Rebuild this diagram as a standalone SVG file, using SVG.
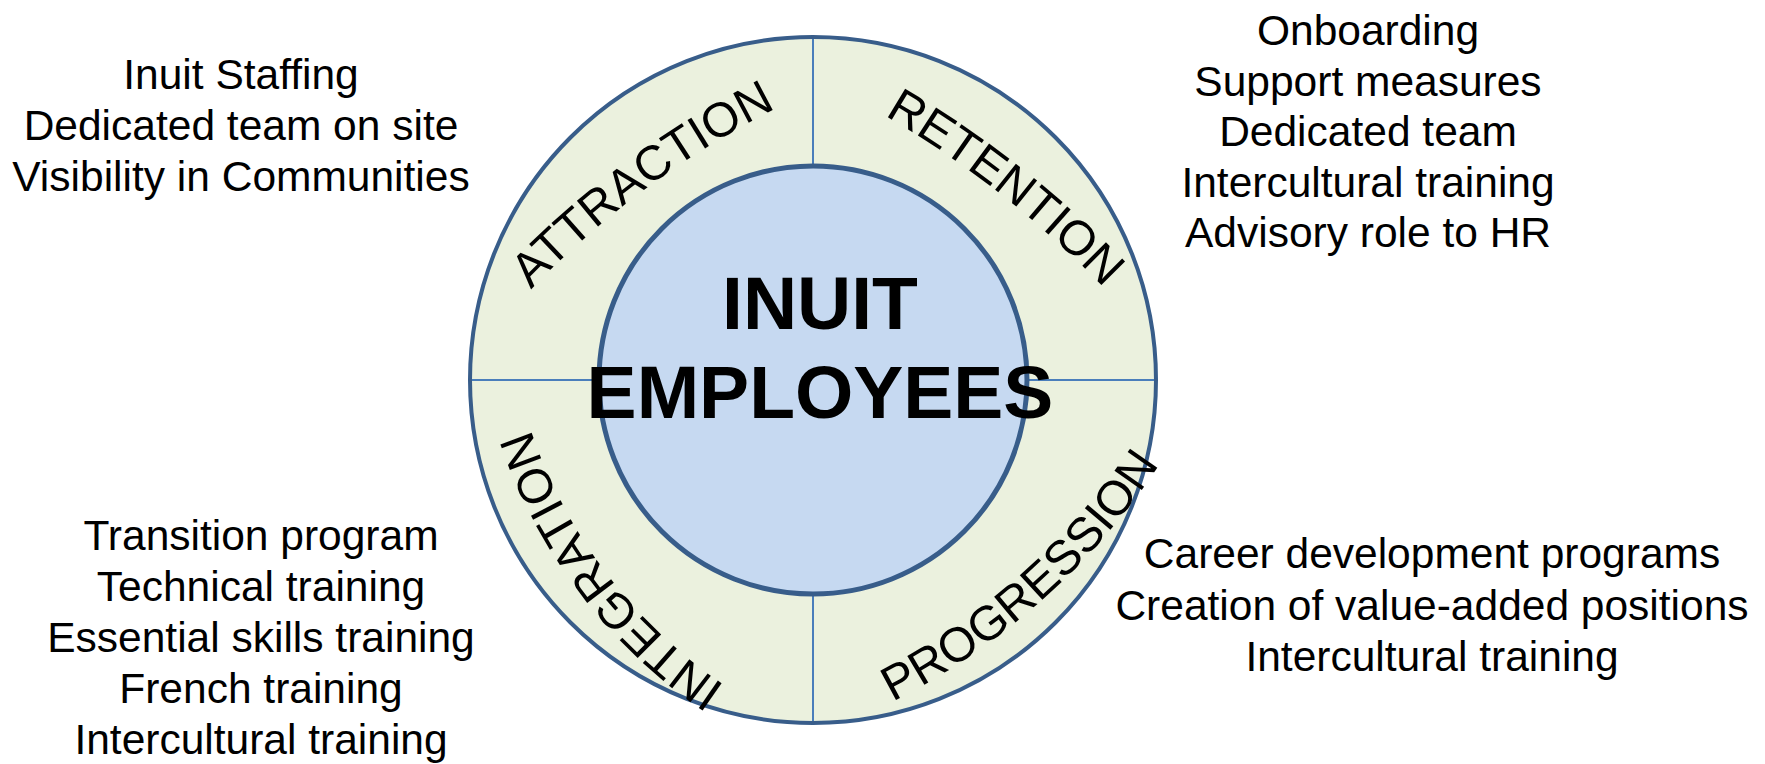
<svg xmlns="http://www.w3.org/2000/svg" width="1765" height="764" viewBox="0 0 1765 764">
<style>
.t{font-family:"Liberation Sans",Arial,sans-serif;font-size:42.5px;fill:#000;text-anchor:middle}
.lab{font-family:"Liberation Sans",Arial,sans-serif;font-size:48.5px;fill:#000}
.ctr{font-family:"Liberation Sans",Arial,sans-serif;font-size:75px;font-weight:bold;fill:#000;text-anchor:middle}
.div{stroke:#4A7EBB;stroke-width:2;fill:none}
</style>
<defs>
<path id="pA" d="M 526,295 A 900 900 0 0 1 783,105"/>
<path id="pR" d="M 882,114 A 1000 1000 0 0 1 1106,290"/>
<path id="pI" d="M 735,692 A 500 500 0 0 1 527,418"/>
<path id="pP" d="M 880,708 A 700 700 0 0 0 1167,453"/>
</defs>
<rect width="1765" height="764" fill="#fff"/>
<g id="ring">
<circle cx="813" cy="380" r="343" fill="#EBF1DE" stroke="#385D8A" stroke-width="4"/>
</g>
<g id="connectors">
<line class="div" x1="813" y1="39" x2="813" y2="166"/>
<line class="div" x1="813" y1="594" x2="813" y2="721"/>
<line class="div" x1="472" y1="380" x2="599" y2="380"/>
<line class="div" x1="1027" y1="380" x2="1154" y2="380"/>
</g>
<g id="center">
<circle cx="813" cy="380" r="214" fill="#C6D9F1" stroke="#385D8A" stroke-width="5"/>
<text class="ctr" x="820" y="329">INUIT</text>
<text class="ctr" x="820" y="418">EMPLOYEES</text>
</g>
<g id="attraction">
<text class="lab"><textPath href="#pA" startOffset="50%" text-anchor="middle">ATTRACTION</textPath></text>
</g>
<g id="retention">
<text class="lab"><textPath href="#pR" startOffset="50%" text-anchor="middle">RETENTION</textPath></text>
</g>
<g id="integration">
<text class="lab"><textPath href="#pI" startOffset="50%" text-anchor="middle">INTEGRATION</textPath></text>
</g>
<g id="progression">
<text class="lab"><textPath href="#pP" startOffset="50%" text-anchor="middle">PROGRESSION</textPath></text>
</g>
<g id="attraction-list">
<text class="t" x="241" y="89">Inuit Staffing</text>
<text class="t" x="241" y="140">Dedicated team on site</text>
<text class="t" x="241" y="191">Visibility in Communities</text>
</g>
<g id="retention-list">
<text class="t" x="1368" y="45">Onboarding</text>
<text class="t" x="1368" y="95.5">Support measures</text>
<text class="t" x="1368" y="146">Dedicated team</text>
<text class="t" x="1368" y="196.5">Intercultural training</text>
<text class="t" x="1368" y="247">Advisory role to HR</text>
</g>
<g id="integration-list">
<text class="t" x="261" y="550">Transition program</text>
<text class="t" x="261" y="601">Technical training</text>
<text class="t" x="261" y="652">Essential skills training</text>
<text class="t" x="261" y="703">French training</text>
<text class="t" x="261" y="754">Intercultural training</text>
</g>
<g id="progression-list">
<text class="t" x="1432" y="568">Career development programs</text>
<text class="t" x="1432" y="619.5">Creation of value-added positions</text>
<text class="t" x="1432" y="671">Intercultural training</text>
</g>
</svg>
